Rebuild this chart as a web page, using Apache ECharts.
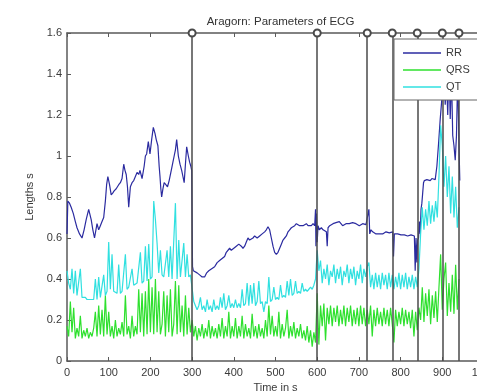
<!DOCTYPE html>
<html>
<head>
<meta charset="utf-8">
<script src="https://cdn.jsdelivr.net/npm/echarts@6/dist/echarts.min.js"></script>
<style>
  html, body { margin: 0; padding: 0; background: #fff; }
  #chart { width: 477px; height: 391px; }
</style>
</head>
<body>
<div id="chart"></div>
<script>
// RR interval (s) at irregular beat times (s)
const rrTime = [
  0, 2, 6, 10, 15, 20, 24, 30, 36, 41, 46, 52, 58, 62, 66, 72, 76, 80, 84, 88,
  92, 95, 98, 102, 106, 110, 113, 118, 124, 128, 132, 136, 139, 142, 145, 148, 150, 152, 156, 160,
  164, 168, 172, 175, 180, 185, 188, 191, 195, 199, 203, 207, 211, 214, 218, 221, 223, 225, 227, 230,
  233, 237, 241, 245, 251, 254, 257, 260, 263, 265, 267, 271, 275, 278, 281, 284, 287, 291, 294, 297,
  299, 301, 303, 306, 312, 318, 324, 330, 335, 340, 347, 354, 360, 366, 372, 378, 382, 386, 390, 394,
  400, 406, 412, 418, 422, 426, 430, 434, 438, 442, 446, 450, 456, 462, 468, 474, 478, 482, 486, 490,
  494, 498, 502, 506, 510, 514, 518, 522, 526, 530, 534, 538, 542, 546, 550, 554, 558, 562, 566, 570,
  574, 578, 582, 586, 590, 594, 596, 597, 598, 600, 602, 605, 610, 614, 618, 622, 624, 626, 630, 634,
  638, 641, 645, 649, 653, 657, 661, 665, 669, 673, 677, 681, 685, 689, 693, 697, 701, 705, 709, 713,
  717, 721, 724, 726, 729, 733, 737, 741, 745, 749, 753, 757, 761, 765, 769, 773, 777, 781, 783, 785,
  789, 793, 797, 801, 805, 809, 813, 817, 821, 825, 829, 833, 835, 837, 839, 841, 843, 845, 847, 849,
  851, 853, 855, 857, 859, 863, 867, 871, 875, 879, 883, 887, 891, 895, 899, 903, 907, 910, 913, 916,
  919, 922, 925, 928, 931, 934, 937, 940, 942
];
const rrValues = [
  0.62, 0.78, 0.77, 0.75, 0.72, 0.68, 0.65, 0.62, 0.60, 0.64, 0.69, 0.74, 0.69, 0.64, 0.60, 0.67, 0.64, 0.66, 0.68, 0.70,
  0.78, 0.86, 0.90, 0.86, 0.81, 0.82, 0.83, 0.84, 0.86, 0.87, 0.89, 0.96, 0.93, 0.91, 0.85, 0.75, 0.80, 0.85, 0.87, 0.88,
  0.90, 0.92, 0.91, 0.93, 0.89, 0.95, 1.00, 1.01, 1.07, 1.01, 1.08, 1.14, 1.11, 1.08, 1.05, 0.95, 0.90, 0.84, 0.80, 0.84,
  0.87, 0.86, 0.85, 0.88, 0.94, 0.97, 1.00, 1.03, 1.08, 1.04, 1.00, 0.96, 0.93, 0.90, 0.87, 0.96, 1.045, 1.00, 0.97, 0.95,
  0.93, 0.46, 0.44, 0.44, 0.43, 0.42, 0.41, 0.41, 0.43, 0.44, 0.45, 0.46, 0.48, 0.49, 0.50, 0.51, 0.53, 0.53, 0.55, 0.54,
  0.55, 0.56, 0.57, 0.56, 0.55, 0.56, 0.58, 0.60, 0.59, 0.59, 0.60, 0.61, 0.60, 0.61, 0.62, 0.63, 0.64, 0.655, 0.64, 0.60,
  0.56, 0.53, 0.52, 0.53, 0.55, 0.57, 0.59, 0.60, 0.61, 0.63, 0.64, 0.65, 0.655, 0.66, 0.67, 0.665, 0.66, 0.665, 0.66, 0.665,
  0.67, 0.66, 0.655, 0.66, 0.67, 0.66, 0.74, 0.56, 0.72, 0.58, 0.66, 0.64, 0.65, 0.64, 0.64, 0.63, 0.56, 0.65, 0.66, 0.66,
  0.67, 0.67, 0.675, 0.67, 0.68, 0.67, 0.66, 0.665, 0.67, 0.675, 0.67, 0.67, 0.675, 0.68, 0.67, 0.665, 0.66, 0.665, 0.67, 0.67,
  0.665, 0.66, 0.74, 0.62, 0.64, 0.63, 0.625, 0.62, 0.615, 0.62, 0.625, 0.62, 0.625, 0.63, 0.63, 0.625, 0.63, 0.63, 0.51, 0.62,
  0.625, 0.62, 0.62, 0.615, 0.61, 0.615, 0.61, 0.61, 0.615, 0.615, 0.61, 0.61, 0.44, 0.60, 0.48, 0.59, 0.60, 0.68, 0.62, 0.74,
  0.77, 0.82, 0.87, 0.88, 0.88, 0.885, 0.885, 0.88, 0.89, 0.885, 0.885, 0.95, 1.06, 1.18, 1.28, 1.45, 1.25, 1.40, 1.20, 1.45,
  1.18, 1.40, 1.10, 1.05, 0.98, 1.10, 1.40, 1.05, 0.88
];

// QT and QRS durations (s), one value every sampleStep seconds starting at 0
const sampleStep = 4;
const qtValues = [
  0.44, 0.38, 0.35, 0.45, 0.33, 0.44, 0.32, 0.32, 0.45, 0.31, 0.31, 0.31, 0.30, 0.30, 0.30, 0.30, 0.30, 0.40, 0.30, 0.41, 0.31, 0.31, 0.42, 0.32, 0.34,
  0.58, 0.35, 0.52, 0.34, 0.34, 0.33, 0.47, 0.33, 0.34, 0.34, 0.52, 0.35, 0.36, 0.36, 0.45, 0.37, 0.37, 0.38, 0.38, 0.53, 0.38, 0.39, 0.56, 0.39, 0.57,
  0.40, 0.41, 0.78, 0.69, 0.575, 0.43, 0.54, 0.42, 0.41, 0.41, 0.54, 0.41, 0.56, 0.40, 0.40, 0.77, 0.40, 0.59, 0.41, 0.41, 0.575, 0.41, 0.52, 0.41, 0.42,
  0.42, 0.29, 0.27, 0.25, 0.27, 0.31, 0.25, 0.27, 0.24, 0.30, 0.25, 0.27, 0.24, 0.30, 0.25, 0.27, 0.25, 0.31, 0.26, 0.33, 0.25, 0.27, 0.32, 0.26, 0.28,
  0.26, 0.30, 0.26, 0.28, 0.26, 0.35, 0.27, 0.28, 0.38, 0.27, 0.37, 0.28, 0.38, 0.27, 0.29, 0.39, 0.28, 0.29, 0.24, 0.29, 0.28, 0.41, 0.29, 0.30, 0.36,
  0.30, 0.31, 0.30, 0.37, 0.31, 0.32, 0.31, 0.39, 0.32, 0.40, 0.32, 0.33, 0.39, 0.33, 0.34, 0.33, 0.38, 0.34, 0.35, 0.34, 0.35, 0.36, 0.35, 0.37, 0.40,
  0.54, 0.44, 0.49, 0.38, 0.45, 0.40, 0.47, 0.37, 0.44, 0.41, 0.47, 0.38, 0.45, 0.40, 0.46, 0.37, 0.44, 0.41, 0.47, 0.38, 0.45, 0.40, 0.46, 0.37, 0.44,
  0.40, 0.47, 0.38, 0.45, 0.41, 0.46, 0.48, 0.36, 0.42, 0.35, 0.43, 0.36, 0.42, 0.35, 0.43, 0.37, 0.42, 0.35, 0.43, 0.36, 0.42, 0.35, 0.41, 0.36, 0.43,
  0.35, 0.42, 0.36, 0.43, 0.35, 0.41, 0.36, 0.42, 0.35, 0.41, 0.36, 0.45, 0.62, 0.75, 0.64, 0.74, 0.66, 0.78, 0.67, 0.76, 0.68, 0.78, 0.70, 0.90, 1.15,
  1.05, 0.85, 1.00, 0.80, 0.95, 0.72, 0.90, 0.70, 0.85, 0.65, 0.75
];
const qrsValues = [
  0.17, 0.12, 0.29, 0.14, 0.26, 0.11, 0.16, 0.12, 0.22, 0.11, 0.15, 0.12, 0.16, 0.11, 0.14, 0.12, 0.16, 0.24, 0.12, 0.27, 0.13, 0.25, 0.12, 0.32, 0.13,
  0.24, 0.12, 0.17, 0.11, 0.20, 0.12, 0.16, 0.13, 0.19, 0.12, 0.32, 0.13, 0.17, 0.11, 0.22, 0.12, 0.17, 0.13, 0.35, 0.14, 0.33, 0.12, 0.34, 0.13, 0.40,
  0.14, 0.36, 0.13, 0.40, 0.14, 0.34, 0.13, 0.18, 0.34, 0.12, 0.32, 0.14, 0.35, 0.12, 0.18, 0.39, 0.13, 0.37, 0.14, 0.27, 0.12, 0.32, 0.13, 0.26, 0.14,
  0.20, 0.12, 0.17, 0.10, 0.16, 0.12, 0.18, 0.11, 0.16, 0.12, 0.20, 0.11, 0.17, 0.12, 0.16, 0.11, 0.18, 0.12, 0.21, 0.11, 0.17, 0.12, 0.24, 0.11, 0.17,
  0.12, 0.21, 0.11, 0.17, 0.12, 0.22, 0.11, 0.18, 0.12, 0.16, 0.11, 0.23, 0.12, 0.17, 0.11, 0.18, 0.12, 0.16, 0.11, 0.20, 0.12, 0.27, 0.13, 0.22, 0.12,
  0.17, 0.12, 0.24, 0.11, 0.18, 0.12, 0.16, 0.25, 0.11, 0.17, 0.12, 0.19, 0.11, 0.16, 0.12, 0.18, 0.11, 0.15, 0.10, 0.17, 0.09, 0.15, 0.07, 0.14, 0.09,
  0.33, 0.08, 0.27, 0.17, 0.28, 0.10, 0.26, 0.18, 0.27, 0.17, 0.26, 0.19, 0.27, 0.17, 0.25, 0.18, 0.27, 0.17, 0.26, 0.19, 0.27, 0.17, 0.25, 0.18, 0.26,
  0.17, 0.27, 0.18, 0.26, 0.17, 0.25, 0.18, 0.27, 0.12, 0.25, 0.17, 0.26, 0.18, 0.24, 0.17, 0.26, 0.18, 0.25, 0.17, 0.26, 0.18, 0.09, 0.25, 0.17, 0.24,
  0.18, 0.26, 0.17, 0.25, 0.18, 0.24, 0.16, 0.25, 0.12, 0.24, 0.15, 0.26, 0.20, 0.36, 0.19, 0.33, 0.22, 0.35, 0.18, 0.32, 0.21, 0.34, 0.19, 0.36, 0.52,
  0.25, 0.40, 0.48, 0.22, 0.38, 0.24, 0.42, 0.23, 0.47, 0.25, 0.40
];

// Times (s) of marked events, drawn as vertical stems with a circle on top
const eventTimes = [300, 600, 720, 780, 840, 900, 940];

const seriesNames = ['RR', 'QRS', 'QT'];
const seriesColors = ['#2b2ba0', '#2ee02e', '#30e0e0'];

const rrData = rrTime.map((t, i) => [t, rrValues[i]]);
const qrsData = qrsValues.map((v, i) => [i * sampleStep, v]);
const qtData = qtValues.map((v, i) => [i * sampleStep, v]);

const axisColor = '#5a5a5a';
const labelColor = '#3a3a3a';
const fontFamily = '"Liberation Sans", Arial, sans-serif';

const chart = echarts.init(document.getElementById('chart'), null, { renderer: 'canvas' });

function lineSeries(name, data, color) {
  return {
    name: name,
    type: 'line',
    data: data,
    showSymbol: false,
    symbol: 'none',
    lineStyle: { color: color, width: 1.2 },
    itemStyle: { color: color },
    z: 3,
    animation: false
  };
}

chart.setOption({
  backgroundColor: '#fff',
  animation: false,
  title: {
    text: 'Aragorn: Parameters of ECG',
    left: 275.5,
    top: 11,
    textAlign: 'center',
    textStyle: { fontFamily: fontFamily, fontSize: 11.5, fontWeight: 'normal', color: '#333' }
  },
  grid: {
    left: 67, top: 33, width: 417, height: 328,
    containLabel: false,
    outerBoundsMode: 'none'
  },
  legend: {
    data: seriesNames,
    icon: 'rect',
    orient: 'vertical',
    left: 394,
    top: 39,
    padding: [8, 9, 7, 9],
    itemWidth: 38,
    itemHeight: 1.3,
    itemGap: 5,
    backgroundColor: '#fff',
    borderColor: '#666',
    borderWidth: 1,
    borderRadius: 0,
    textStyle: { fontFamily: fontFamily, fontSize: 11, lineHeight: 12, color: labelColor },
    z: 10
  },
  xAxis: [
    {
      type: 'value',
      position: 'bottom',
      min: 0, max: 1000, interval: 100,
      name: 'Time in s',
      nameLocation: 'middle',
      nameGap: 21,
      nameTextStyle: { fontFamily: fontFamily, fontSize: 11, color: labelColor },
      axisLine: { show: true, onZero: false, lineStyle: { color: axisColor, width: 1.5 } },
      axisTick: { show: true, inside: true, length: 4, lineStyle: { color: axisColor } },
      axisLabel: {
        margin: 6, fontFamily: fontFamily, fontSize: 11, color: labelColor,
        formatter: v => String(v)
      },
      splitLine: { show: false }
    },
    {
      type: 'value',
      position: 'top',
      min: 0, max: 1000, interval: 100,
      axisLine: { show: true, onZero: false, lineStyle: { color: axisColor, width: 1.5 } },
      axisTick: { show: true, inside: true, length: 4, lineStyle: { color: axisColor } },
      axisLabel: { show: false },
      splitLine: { show: false }
    }
  ],
  yAxis: [
    {
      type: 'value',
      position: 'left',
      min: 0, max: 1.6, interval: 0.2,
      name: 'Lengths s',
      nameLocation: 'middle',
      nameGap: 30,
      nameTextStyle: { fontFamily: fontFamily, fontSize: 11, color: labelColor },
      axisLine: { show: true, onZero: false, lineStyle: { color: axisColor, width: 1.5 } },
      axisTick: { show: true, inside: true, length: 4, lineStyle: { color: axisColor } },
      axisLabel: {
        margin: 5, fontFamily: fontFamily, fontSize: 11, color: labelColor,
        formatter: v => String(Math.round(v * 10) / 10)
      },
      splitLine: { show: false }
    },
    {
      type: 'value',
      position: 'right',
      min: 0, max: 1.6, interval: 0.2,
      axisLine: { show: true, onZero: false, lineStyle: { color: axisColor, width: 1.5 } },
      axisTick: { show: true, inside: true, length: 4, lineStyle: { color: axisColor } },
      axisLabel: { show: false },
      splitLine: { show: false }
    }
  ],
  series: [
    lineSeries('RR', rrData, seriesColors[0]),
    lineSeries('QRS', qrsData, seriesColors[1]),
    lineSeries('QT', qtData, seriesColors[2]),
    {
      name: 'events',
      type: 'line',
      data: [],
      z: 4,
      animation: false,
      markLine: {
        silent: true,
        animation: false,
        symbol: ['none', 'emptyCircle'],
        symbolSize: 7,
        label: { show: false },
        lineStyle: { color: '#4a4a4a', width: 1.5, type: 'solid' },
        emphasis: { disabled: true },
        data: eventTimes.map(t => ({ xAxis: t }))
      }
    }
  ]
});
</script>
</body>
</html>
